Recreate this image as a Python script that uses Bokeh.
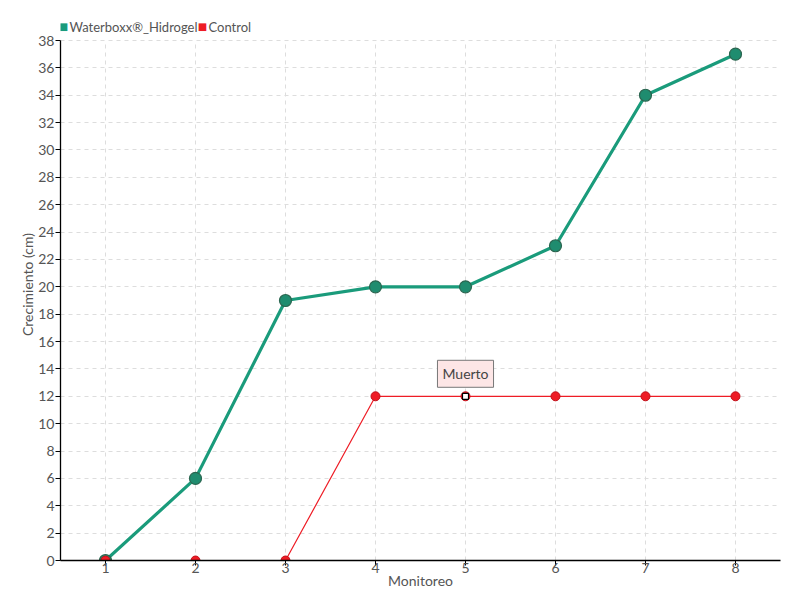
from bokeh.plotting import figure
from bokeh.models import (ColumnDataSource, FixedTicker, Label, Range1d)
from bokeh.embed import file_html
from bokeh.resources import INLINE

monitoreo = [1, 2, 3, 4, 5, 6, 7, 8]
waterboxx = [0, 6, 19, 20, 20, 23, 34, 37]
control = [0, 0, 0, 12, 12, 12, 12, 12]
y_ticks = list(range(0, 39, 2))
series_names = ["Waterboxx®_Hidrogel", "Control"]
note_index = 4
note_text = "Muerto"

FONT = "Lato"
TEAL = "#1a9b7b"
RED = "#ee1c25"
TXT = "#555555"

# frame: 520 px for 0..38, extended upward by 32 px to hold the legend row
Y_MAX = y_ticks[-1]
TOP_PAD_PX = 32
y_end = Y_MAX + TOP_PAD_PX * Y_MAX / 520.0

p = figure(width=800, height=600, output_backend="svg", toolbar_location=None,
           x_range=Range1d(0.5, 8.5), y_range=Range1d(0, y_end),
           min_border_left=60, min_border_right=20, min_border_top=8, min_border_bottom=40)
p.outline_line_color = None

src_w = ColumnDataSource(dict(x=monitoreo, y=waterboxx))
src_c = ColumnDataSource(dict(x=monitoreo, y=control))

# vertical grid lines limited to the 0..38 band
p.segment(x0=monitoreo, x1=monitoreo, y0=[y_ticks[0]] * len(monitoreo), y1=[Y_MAX] * len(monitoreo),
          line_color="#dddddd", line_dash="4 4", line_width=1, level="underlay")

p.line("x", "y", source=src_w, line_color=TEAL, line_width=3.2)
p.scatter("x", "y", source=src_w, size=12, fill_color="#1f8c6f", line_color="#2b6650", line_width=1.2)
p.line("x", "y", source=src_c, line_color=RED, line_width=1.2)
p.scatter("x", "y", source=src_c, size=9, fill_color=RED, line_color="#c0101a", line_width=1)

p.scatter([monitoreo[note_index]], [control[note_index]], marker="square", size=6,
          fill_color="white", line_color="black", line_width=1.2)

lab = Label(x=monitoreo[note_index], y=control[note_index], y_offset=9, text=note_text,
            text_align="center", text_baseline="bottom", text_font=FONT, text_font_size="14px",
            text_color="#444444", background_fill_color="#fde6e6", border_line_color="#777777",
            border_line_width=1, padding=5)
p.add_layout(lab)

# legend row (screen units relative to the frame's bottom-left)
legend_spec = [(series_names[0], TEAL, 3), (series_names[1], RED, 142)]
for name, col, x0 in legend_spec:
    p.add_layout(Label(x=x0, y=534, x_units="screen", y_units="screen", text="■",
                       text_font="DejaVu Sans", text_font_size="10px", text_color=col,
                       text_align="center", text_baseline="alphabetic"))
    p.add_layout(Label(x=x0 + 6, y=534, x_units="screen", y_units="screen", text=name,
                       text_font=FONT, text_font_size="13px", text_color=TXT,
                       text_align="left", text_baseline="alphabetic"))

p.xaxis.ticker = FixedTicker(ticks=monitoreo)
p.yaxis.ticker = FixedTicker(ticks=y_ticks)
p.yaxis.bounds = (y_ticks[0], Y_MAX)
for ax in (p.xaxis[0], p.yaxis[0]):
    ax.axis_line_color = "black"
    ax.axis_line_width = 1.3
    ax.major_tick_line_color = "black"
    ax.major_tick_in = 0
    ax.major_tick_out = 5
    ax.minor_tick_line_color = None
    ax.major_label_text_font = FONT
    ax.major_label_text_font_size = "14px"
    ax.major_label_text_color = TXT
    ax.axis_label_text_font = FONT
    ax.axis_label_text_font_size = "14px"
    ax.axis_label_text_color = TXT
    ax.axis_label_text_font_style = "normal"
p.xaxis.axis_label = "Monitoreo"
p.yaxis.axis_label = "Crecimiento (cm)"
p.xaxis.major_label_standoff = -3
p.xaxis.axis_label_standoff = -4
p.yaxis.major_label_standoff = 1
p.yaxis.axis_label_standoff = -1

p.xgrid.grid_line_color = None
p.ygrid.grid_line_color = "#dddddd"
p.ygrid.grid_line_dash = "4 4"

open("out.html", "w").write(file_html(p, INLINE))
